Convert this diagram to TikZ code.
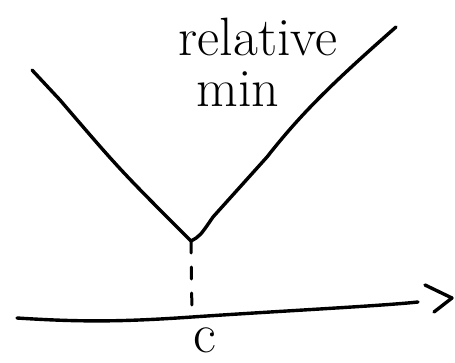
\documentclass[tikz,border=0pt]{standalone}
\usepackage{tikz}
\usetikzlibrary{arrows.meta,positioning,calc}
\definecolor{inkblack}{HTML}{000000}

\begin{document}
\begin{tikzpicture}[x=1pt, y=-1pt, line cap=round, line join=round]
  \tikzset{pen/.style={draw=inkblack, line width=3.4pt},
           penthin/.style={pen, line width=3pt},
           hand/.style={font=\fontsize{54}{60}\selectfont, text=inkblack, inner sep=0, anchor=base}}
  \useasboundingbox (0,0) rectangle (455,362);
  % curve
  \coordinate (lefttop) at (32,70);
  \coordinate (vertex) at (191,241);
  \coordinate (righttop) at (396,27);
  \draw[pen] (lefttop) -- (60,100) .. controls (120,170) .. (vertex)
    .. controls (200,236) .. (213,217) -- (267,157)
    .. controls (300,115) and (330,85) .. (righttop);
  % axis
  \coordinate (axstart) at (17,318);
  \coordinate (axfoot) at (192,317);
  \coordinate (axend) at (418,302);
  \draw[pen] (axstart) .. controls (80,322) and (120,322) .. (axfoot)
    .. controls (280,311) and (380,306) .. (axend);
  \coordinate (tipa) at (425,285);
  \coordinate (tipb) at (452,298);
  \coordinate (tipc) at (434,312);
  \draw[pen] (tipa) -- (tipb) -- (tipc);
  % drop line
  \draw[penthin, dash pattern=on 12pt off 14pt] (vertex) -- (axfoot);
  % labels
  \node[hand] (rel) at (258,55) {relative};
  \node[hand] (mn) at (238,106) {min};
  \node[hand, font=\fontsize{56}{60}\selectfont] (cc) at (205,352) {c};
\end{tikzpicture}
\end{document}
